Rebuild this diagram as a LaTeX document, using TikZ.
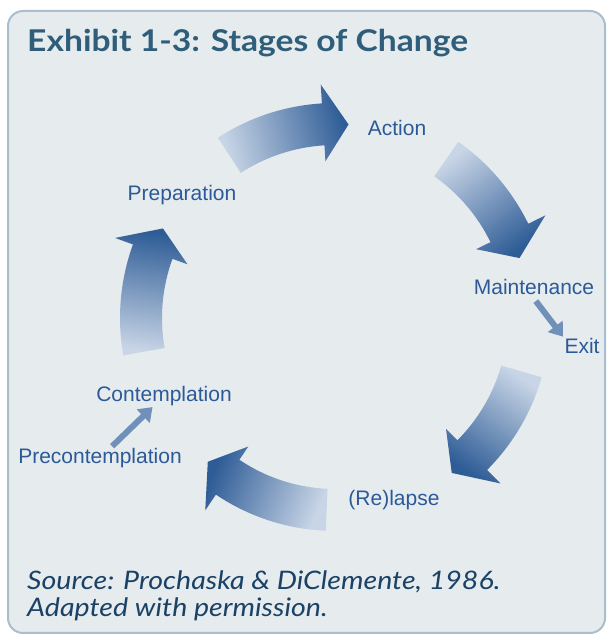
\documentclass[tikz,border=0pt]{standalone}
\usepackage{fontspec}
\setmainfont{Lato}
\newfontfamily\labelfont{Liberation Sans}
\newfontfamily\widefont{Lato}[FakeStretch=1.12]
\usetikzlibrary{arrows.meta}
\definecolor{panelfill}{RGB}{230,235,238}
\definecolor{paneledge}{RGB}{170,190,205}
\definecolor{titleblue}{RGB}{46,94,122}
\definecolor{sourceblue}{RGB}{26,66,102}
\definecolor{stageblue}{RGB}{44,90,152}
\definecolor{arrowdark}{RGB}{46,92,150}
\definecolor{arrowlight}{RGB}{200,213,230}
\definecolor{steparrow}{RGB}{112,144,186}

\begin{document}
\begin{tikzpicture}
[x=1pt,y=1pt,%
  stage/.style={inner sep=0pt,text=stageblue,text height=15pt,text depth=4pt,%
    font=\labelfont\fontsize{21}{25}\selectfont},%
  credit/.style={anchor=base west,inner sep=0pt,text=sourceblue,%
    font=\widefont\itshape\fontsize{25.5}{27}\selectfont},%
  bigarrow/.style={top color=arrowdark,bottom color=arrowlight},%
  stepline/.style={draw=steparrow,line width=6pt,%
    -{Triangle[length=13pt,width=18pt]},shorten <=3pt,shorten >=2pt}]
\useasboundingbox (0,0) rectangle (606,634);
\draw[fill=panelfill,draw=paneledge,line width=2pt,rounded corners=15pt]
  (8,1) rectangle (605,623);
\node (title) [anchor=base west,inner sep=0pt,text=titleblue,%
  font=\widefont\bfseries\fontsize{30}{34}\selectfont] at (27,582)
  {Exhibit 1-3: Stages of Change};

\begin{scope}[shift={(335,316)}]
\shade[bigarrow,shading angle=-75]
  (123:215) arc[start angle=123,end angle=93.5,radius=215] -- (93.5:234)
  -- (86:194) -- (93.5:157) -- (93.5:173)
  arc[start angle=93.5,end angle=123,radius=173] -- cycle;
\shade[bigarrow,shading angle=-143.5]
  (55:215) arc[start angle=55,end angle=26,radius=215] -- (26:234)
  -- (18:194) -- (26:157) -- (26:173)
  arc[start angle=26,end angle=55,radius=173] -- cycle;
\shade[bigarrow,shading angle=145.5]
  (-16:215) arc[start angle=-16,end angle=-45,radius=215] -- (-45:234)
  -- (-53:194) -- (-45:157) -- (-45:173)
  arc[start angle=-45,end angle=-16,radius=173] -- cycle;
\shade[bigarrow,shading angle=68]
  (-92.5:213) arc[start angle=-92.5,end angle=-124,radius=213] -- (-124:232)
  -- (-131.5:192) -- (-124:155) -- (-124:171)
  arc[start angle=-124,end angle=-92.5,radius=171] -- cycle;
\shade[bigarrow,shading angle=-8.75]
  (190:215) arc[start angle=190,end angle=160,radius=215] -- (160:234)
  -- (152.5:194) -- (160:157) -- (160:173)
  arc[start angle=160,end angle=190,radius=173] -- cycle;
\end{scope}

\node (action)  [stage] at (397,504) {Action};
\node (prep)    [stage] at (182,439) {Preparation};
\node (maint)   [stage] at (534,345) {Maintenance};
\node (exit)    [stage] at (582,286) {Exit};
\node (relapse) [stage] at (394,134) {(Re)lapse};
\node (contemp) [stage] at (164,238) {Contemplation};
\node (precont) [stage] at (100,176) {Precontemplation};

\draw[stepline] (precont) -- (contemp);
\draw[stepline] (maint.south) -- (exit.north west);

\node (source) [credit] at (27,44) {Source: Prochaska \& DiClemente, 1986.};
\node (adapted) [credit] at ([yshift=-27pt]source.base west)
  {Adapted with permission.};
\end{tikzpicture}
\end{document}
